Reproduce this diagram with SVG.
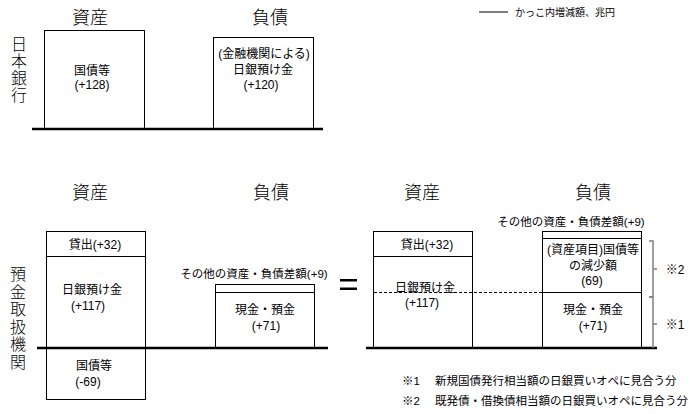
<svg xmlns="http://www.w3.org/2000/svg" width="690" height="414" viewBox="0 0 690 414">
<style>
text{font-family:"Liberation Sans","Noto Sans CJK JP",sans-serif;fill:#000;text-anchor:middle}
.h{font-size:18px;font-weight:300}
.v{font-size:16px;font-weight:300}
.t{font-size:12px}
.s{font-size:11.5px}
.f{font-size:11.5px;text-anchor:start}
.box{fill:#fff;stroke:#000;stroke-width:1}
.base{stroke:#000;stroke-width:2.5}
.br{fill:none;stroke:#808080;stroke-width:1.5}
</style>
<rect width="690" height="414" fill="#fff"/>
<g id="legend">
<line x1="479" y1="12" x2="508" y2="12" stroke="#000" stroke-width="1"/>
<text x="515" y="16" style="font-size:10px;text-anchor:start">かっこ内増減額、兆円</text>
</g>
<g id="boj">
<text class="h" x="90" y="24">資産</text>
<text class="h" x="270" y="24">負債</text>
<text class="v" x="19" y="50">日</text>
<text class="v" x="19" y="67">本</text>
<text class="v" x="19" y="84">銀</text>
<text class="v" x="19" y="101">行</text>
<g id="boj-asset"><rect class="box" x="44.5" y="30.5" width="100" height="98"/>
<text class="t" x="92" y="75">国債等</text><text class="t" x="92" y="89">(+128)</text></g>
<g id="boj-liab"><rect class="box" x="213.5" y="37.5" width="100" height="91"/>
<text class="t" x="264" y="58">(金融機関による)</text><text class="t" x="263" y="74">日銀預け金</text><text class="t" x="261" y="89">(+120)</text></g>
<line class="base" x1="32" y1="129" x2="323" y2="129"/>
</g>
<g id="bank-before">
<text class="h" x="90" y="199">資産</text>
<text class="h" x="271" y="199">負債</text>
<text class="v" x="18" y="280">預</text>
<text class="v" x="18" y="297.5">金</text>
<text class="v" x="18" y="315">取</text>
<text class="v" x="18" y="332.5">扱</text>
<text class="v" x="18" y="350">機</text>
<text class="v" x="18" y="367.5">関</text>
<g id="bb-loan"><rect class="box" x="46.5" y="231.5" width="99" height="25"/><text class="t" x="95" y="249">貸出(+32)</text></g>
<g id="bb-boj"><rect class="box" x="46.5" y="256.5" width="99" height="92"/><text class="t" x="92" y="294">日銀預け金</text><text class="t" x="88" y="310">(+117)</text></g>
<g id="bb-jgb"><rect class="box" x="46.5" y="348.5" width="99" height="51"/><text class="t" x="94" y="370">国債等</text><text class="t" x="88" y="386">(-69)</text></g>
<g id="bb-other"><rect class="box" x="215.5" y="284.5" width="99" height="8"/><text class="s" x="254" y="278">その他の資産・負債差額(+9)</text></g>
<g id="bb-dep"><rect class="box" x="215.5" y="292.5" width="99" height="56"/><text class="t" x="265" y="314">現金・預金</text><text class="t" x="266" y="330">(+71)</text></g>
<line class="base" x1="37" y1="348" x2="328" y2="348"/>
</g>
<g id="equals">
<rect x="340" y="279" width="17" height="2.5" fill="#000"/>
<rect x="340" y="287.5" width="17" height="2.5" fill="#000"/>
</g>
<g id="bank-after">
<text class="h" x="422" y="199">資産</text>
<text class="h" x="593" y="199">負債</text>
<g id="ba-loan"><rect class="box" x="373.5" y="231.5" width="99" height="25"/><text class="t" x="427" y="249">貸出(+32)</text></g>
<g id="ba-boj"><rect class="box" x="373.5" y="256.5" width="99" height="92"/><text class="t" x="425" y="292">日銀預け金</text><text class="t" x="422" y="307">(+117)</text></g>
<g id="ba-other"><rect class="box" x="542.5" y="231.5" width="99" height="7"/><text class="s" x="571" y="226">その他の資産・負債差額(+9)</text></g>
<g id="ba-jgb"><rect class="box" x="542.5" y="238.5" width="99" height="54"/><text class="t" x="593" y="254">(資産項目)国債等</text><text class="t" x="593" y="270">の減少額</text><text class="t" x="592" y="285">(69)</text></g>
<g id="ba-dep"><rect class="box" x="542.5" y="292.5" width="99" height="56"/><text class="t" x="593" y="314">現金・預金</text><text class="t" x="593" y="330">(+71)</text></g>
<line x1="374" y1="292.5" x2="542" y2="292.5" stroke="#000" stroke-width="1" stroke-dasharray="3,2"/>
<line class="base" x1="366" y1="348" x2="657" y2="348"/>
</g>
<g id="connectors">
<path class="br" d="M649 241 H653 V297 H649 M653 269 H657"/>
<path class="br" d="M649 297 H653 V348 M653 324 H657"/>
<text class="t" x="675" y="274">※2</text>
<text class="t" x="675" y="329">※1</text>
</g>
<g id="notes">
<text class="f" x="402" y="385">※1</text><text class="f" x="435" y="385">新規国債発行相当額の日銀買いオペに見合う分</text>
<text class="f" x="402" y="405">※2</text><text class="f" x="435" y="405">既発債・借換債相当額の日銀買いオペに見合う分</text>
</g>
</svg>
